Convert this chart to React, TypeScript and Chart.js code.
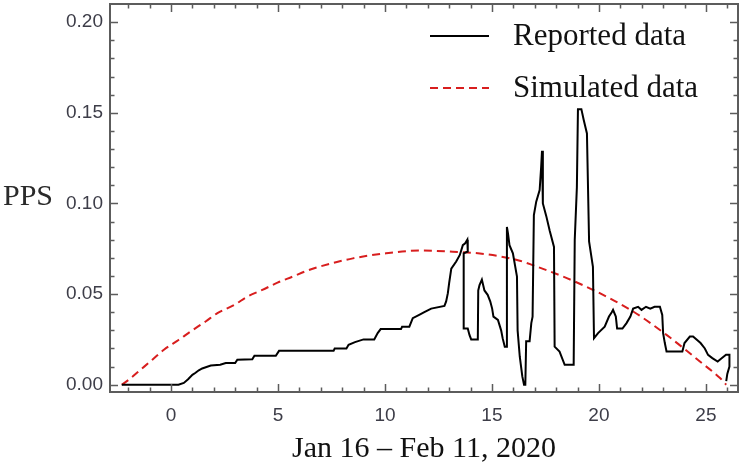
import React, { useEffect, useRef } from 'react';
import { Chart, registerables } from 'chart.js';

Chart.register(...registerables);

// ---- Data ----
const reportedX = [
  -2.3, 0.35, 0.6, 0.8, 1.0, 1.15, 1.3, 1.46, 1.86, 2.3, 2.56, 3.0, 3.1, 3.8, 3.9, 4.9, 5.05,
  7.6, 7.65, 8.2, 8.3, 8.6, 9.0, 9.5, 9.66, 9.8, 10.75, 10.8, 11.14, 11.3, 11.6, 11.84, 12.16,
  12.78, 12.86, 12.94, 13.0, 13.1, 13.33, 13.5, 13.64, 13.75, 13.85, 13.87, 13.68, 13.68, 13.87,
  13.95, 14.03, 14.34, 14.36, 14.42, 14.53, 14.65, 14.8, 14.92, 15.01, 15.07, 15.28, 15.43, 15.5,
  15.6, 15.68, 15.7, 15.75, 15.82, 15.98, 16.17, 16.2, 16.3, 16.42, 16.5, 16.56, 16.6, 16.76,
  16.84, 16.9, 16.96, 17.07, 17.23, 17.3, 17.34, 17.38, 17.54, 17.7, 17.9, 17.93, 18.16, 18.4,
  18.82, 18.87, 18.97, 19.02, 19.18, 19.29, 19.44, 19.54, 19.72, 19.77, 19.96, 20.27, 20.47,
  20.6, 20.66, 20.79, 20.85, 21.1, 21.29, 21.47, 21.6, 21.83, 21.99, 22.2, 22.4, 22.6, 22.85,
  22.96, 23.0, 23.08, 23.16, 23.9, 24.0, 24.25, 24.4, 24.75, 24.95, 25.1, 25.3, 25.55, 25.75,
  25.94, 26.1, 26.1, 26.0, 25.95,
];
const reportedY = [
  0, 0, 0.001, 0.003, 0.0055, 0.0066, 0.008, 0.009, 0.0106, 0.011, 0.012, 0.012, 0.0138, 0.014, 0.016, 0.016, 0.0187,
  0.0187, 0.02, 0.02, 0.022, 0.0235, 0.025, 0.025, 0.0285, 0.0307, 0.0307, 0.032, 0.032, 0.0367, 0.0385, 0.04, 0.042,
  0.0435, 0.046, 0.0505, 0.056, 0.064, 0.068, 0.0716, 0.077, 0.078, 0.08, 0.0735, 0.0725, 0.031, 0.031,
  0.0275, 0.025, 0.025, 0.052, 0.055, 0.058, 0.052, 0.0496, 0.046, 0.042, 0.0376, 0.0358, 0.03, 0.0257,
  0.021, 0.021, 0.087, 0.0835, 0.077, 0.0725, 0.0596, 0.03, 0.0156, 0.0046, 0.0, 0.0, 0.024, 0.024,
  0.034, 0.0376, 0.0936, 0.101, 0.1074, 0.12, 0.129, 0.1, 0.093, 0.085, 0.076, 0.021, 0.0183, 0.011,
  0.011, 0.08, 0.109, 0.152, 0.152, 0.146, 0.1386, 0.079, 0.065, 0.0257, 0.0285, 0.032, 0.0376,
  0.04, 0.0413, 0.0376, 0.031, 0.031, 0.034, 0.0376, 0.042, 0.043, 0.0413, 0.043, 0.042, 0.043, 0.043,
  0.0385, 0.0285, 0.023, 0.0183, 0.0183, 0.023, 0.0266, 0.0266, 0.023, 0.02, 0.0165, 0.0147, 0.0128, 0.0147,
  0.0165, 0.0165, 0.01, 0.006, 0.002,
];
const simulatedX = [
  -2.3, -1.97, -1.42, -0.87, -0.33, 0.37, 0.92, 1.62, 2.17, 2.95, 3.57, 4.27, 4.98, 5.68, 6.38,
  6.93, 8.5, 10.05, 11.6, 13.17, 14.73, 16.3, 16.9, 18.5, 20.04, 21.6, 23.16, 24.72, 25.66, 25.95,
];
const simulatedY = [
  0, 0.0028, 0.0083, 0.0138, 0.0193, 0.0248, 0.0294, 0.0349, 0.0395, 0.044, 0.0486, 0.0523, 0.0563, 0.0596, 0.063,
  0.0651, 0.0697, 0.0725, 0.074, 0.0734, 0.072, 0.0684, 0.066, 0.0588, 0.0505, 0.0404, 0.0275, 0.0128, 0.0037, 0,
];
const seriesLabels = ['Reported data', 'Simulated data'];
const xTickValues = [0, 5, 10, 15, 20, 25];
const yTickValues = [0, 0.05, 0.1, 0.15, 0.2];
const xMinorTicks = [-2, -1, 0, 1, 2, 3, 4, 5, 6, 7, 8, 9, 10, 11, 12, 13, 14, 15, 16, 17, 18, 19, 20, 21, 22, 23, 24, 25, 26];
const yMinorTicks = [0, 0.01, 0.02, 0.03, 0.04, 0.05, 0.06, 0.07, 0.08, 0.09, 0.1, 0.11, 0.12, 0.13, 0.14, 0.15, 0.16, 0.17, 0.18, 0.19, 0.2];
const xTitle = 'Jan 16 – Feb 11, 2020';
const yTitle = 'PPS';

const SERIF = "'Liberation Serif', 'Times New Roman', serif";
const SANS = "'Liberation Sans', Arial, sans-serif";
const FRAME = '#5c5c5c';

const framePlugin = {
  id: 'mmaFrame',
  afterDatasetsDraw(chart: any) {
    const { ctx, chartArea: a, scales } = chart;
    const x = scales.x;
    const y = scales.y;
    ctx.save();
    ctx.strokeStyle = FRAME;
    ctx.lineWidth = 1.5;
    xMinorTicks.forEach((v) => {
      const px = Math.round(x.getPixelForValue(v)) + 0.5;
      const len = v % 5 === 0 ? 8 : 4.5;
      ctx.beginPath();
      ctx.moveTo(px, a.bottom);
      ctx.lineTo(px, a.bottom - len);
      ctx.moveTo(px, a.top);
      ctx.lineTo(px, a.top + len);
      ctx.stroke();
    });
    yMinorTicks.forEach((v, i) => {
      const py = Math.round(y.getPixelForValue(v)) + 0.5;
      const len = i % 5 === 0 ? 8 : 4.5;
      ctx.beginPath();
      ctx.moveTo(a.left, py);
      ctx.lineTo(a.left + len, py);
      ctx.moveTo(a.right, py);
      ctx.lineTo(a.right - len, py);
      ctx.stroke();
    });
    ctx.lineWidth = 2;
    ctx.strokeRect(a.left, a.top, a.right - a.left, a.bottom - a.top);
    ctx.restore();
  },
  afterDraw(chart: any) {
    const { ctx, chartArea: a } = chart;
    ctx.save();
    // y title, horizontal like the reference
    ctx.fillStyle = '#2a2a2a';
    ctx.font = `30px ${SERIF}`;
    ctx.textAlign = 'left';
    ctx.textBaseline = 'alphabetic';
    ctx.fillText(yTitle, 3, 205);
    // legend inside the plot
    const rows = [36, 88];
    chart.data.datasets.forEach((ds: any, i: number) => {
      const yy = rows[i];
      ctx.strokeStyle = ds.borderColor;
      ctx.lineWidth = 1.8;
      ctx.setLineDash(ds.borderDash || []);
      ctx.beginPath();
      ctx.moveTo(430, yy);
      ctx.lineTo(489, yy);
      ctx.stroke();
      ctx.setLineDash([]);
      ctx.fillStyle = '#111';
      ctx.font = `31px ${SERIF}`;
      ctx.textBaseline = 'middle';
      ctx.fillText(ds.label, 513, yy + 1);
    });
    ctx.restore();
  },
};

export default function App() {
  const canvasRef = useRef<HTMLCanvasElement | null>(null);

  useEffect(() => {
    const canvas = canvasRef.current;
    if (!canvas) return;
    const reported = reportedX.map((v, i) => ({ x: v, y: reportedY[i] }));
    const simulated = simulatedX.map((v, i) => ({ x: v, y: simulatedY[i] }));
    const chart = new Chart(canvas, {
      type: 'scatter',
      data: {
        datasets: [
          {
            label: seriesLabels[0],
            data: reported,
            showLine: true,
            borderColor: '#000000',
            backgroundColor: '#000000',
            borderWidth: 2,
            pointRadius: 0,
            tension: 0,
          },
          {
            label: seriesLabels[1],
            data: simulated,
            showLine: true,
            borderColor: '#d81e1e',
            backgroundColor: '#d81e1e',
            borderWidth: 2,
            borderDash: [8, 5],
            pointRadius: 0,
            cubicInterpolationMode: 'monotone',
          },
        ],
      },
      options: {
        responsive: false,
        animation: false,
        events: [],
        layout: { padding: { top: 4, right: 4, left: 0, bottom: 0 } },
        plugins: {
          legend: { display: false },
          tooltip: { enabled: false },
        },
        scales: {
          x: {
            type: 'linear',
            min: -2.85,
            max: 26.5,
            grid: { display: false, drawTicks: false },
            border: { display: false },
            afterFit: (scale: any) => {
              scale.height = 75;
              scale.paddingLeft = 0;
              scale.paddingRight = 0;
            },
            afterBuildTicks: (scale: any) => {
              scale.ticks = xTickValues.map((v) => ({ value: v }));
            },
            ticks: {
              padding: 12,
              color: '#3d3d48',
              font: { family: SANS, size: 19 },
              maxRotation: 0,
              callback: (v: any) => String(v),
            },
            title: {
              display: true,
              text: xTitle,
              color: '#111',
              font: { family: SERIF, size: 30 },
              padding: { top: 0, bottom: 0 },
            },
          },
          y: {
            type: 'linear',
            min: -0.004,
            max: 0.21,
            grid: { display: false, drawTicks: false },
            border: { display: false },
            afterFit: (scale: any) => {
              scale.width = 110;
              scale.paddingTop = 0;
              scale.paddingBottom = 0;
            },
            afterBuildTicks: (scale: any) => {
              scale.ticks = yTickValues.map((v) => ({ value: v }));
            },
            ticks: {
              padding: 7,
              color: '#3d3d48',
              font: { family: SANS, size: 19 },
              callback: (v: any) => Number(v).toFixed(2),
            },
          },
        },
      },
      plugins: [framePlugin],
    } as any);
    return () => chart.destroy();
  }, []);

  return (
    <div style={{ position: 'absolute', left: 0, top: 0, width: 742, height: 467, background: '#fff' }}>
      <canvas ref={canvasRef} width={742} height={467} style={{ display: 'block' }} />
    </div>
  );
}
